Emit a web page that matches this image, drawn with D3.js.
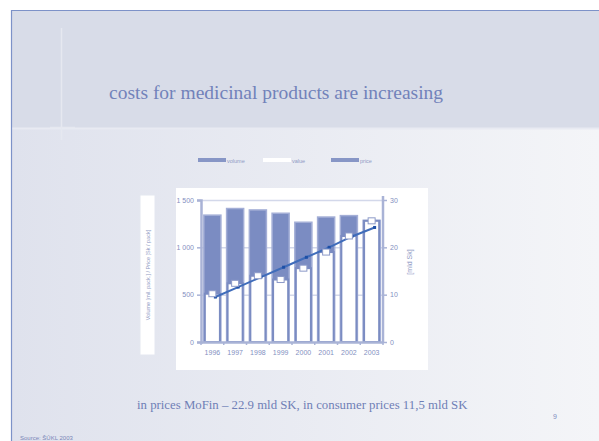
<!DOCTYPE html>
<html>
<head>
<meta charset="utf-8">
<script src="https://cdn.jsdelivr.net/npm/d3@7"></script>
<style>
  html, body { margin: 0; padding: 0; background: #ffffff; }
  svg { display: block; }
</style>
</head>
<body>
<svg id="slide" width="599" height="441"></svg>
<script>
// Yearly data for medicinal products
const years = ["1996", "1997", "1998", "1999", "2000", "2001", "2002", "2003"];
const volume = [1340, 1410, 1395, 1360, 1265, 1320, 1335, 1285];     // left axis
const value = [10.2, 12.4, 14.0, 13.2, 15.6, 19.0, 22.4, 25.6];      // right axis, mld Sk
const price = [9.5, 11.6, 13.7, 15.8, 17.9, 20.0, 22.3, 24.2];       // right axis
const leftTicks = [0, 500, 1000, 1500];
const rightTicks = [0, 10, 20, 30];
const legendNames = ["volume", "value", "price"];

const svg = d3.select("#slide");
const W = 599, H = 441;

// Slide background
const defs = svg.append("defs");
const grad = defs.append("linearGradient").attr("id", "bodyGrad")
  .attr("x1", "0%").attr("y1", "0%").attr("x2", "100%").attr("y2", "0%");
grad.append("stop").attr("offset", "0%").attr("stop-color", "#dfe2ed");
grad.append("stop").attr("offset", "100%").attr("stop-color", "#f4f5f8");

svg.append("rect").attr("x", 0).attr("y", 0).attr("width", W).attr("height", H).attr("fill", "#ffffff");
svg.append("rect").attr("x", 12).attr("y", 128).attr("width", W - 12).attr("height", H - 128).attr("fill", "url(#bodyGrad)");
svg.append("rect").attr("x", 12).attr("y", 11).attr("width", W - 12).attr("height", 117).attr("fill", "#d8dce8");
svg.append("line").attr("x1", 12).attr("x2", W).attr("y1", 128.5).attr("y2", 128.5)
  .attr("stroke", "#e8eaf2").attr("stroke-width", 2);
// frame
svg.append("line").attr("x1", 11.5).attr("x2", 11.5).attr("y1", 10).attr("y2", H).attr("stroke", "#7d92c8").attr("stroke-width", 1.2);
svg.append("line").attr("x1", 11).attr("x2", W).attr("y1", 10.5).attr("y2", 10.5).attr("stroke", "#7d92c8").attr("stroke-width", 1.2);
// decorative guide cross
svg.append("line").attr("x1", 61.5).attr("x2", 61.5).attr("y1", 28).attr("y2", 140).attr("stroke", "#e6e8f0").attr("stroke-width", 1.5);
svg.append("line").attr("x1", 50).attr("x2", 75).attr("y1", 127.5).attr("y2", 127.5).attr("stroke", "#e6e8f0").attr("stroke-width", 1.5);

// Title
svg.append("text").attr("x", 109).attr("y", 99)
  .attr("font-family", "Liberation Serif, DejaVu Serif, serif")
  .attr("font-size", 19.5).attr("fill", "#7282ba")
  .text("costs for medicinal products are increasing");

// Chart panel
svg.append("rect").attr("x", 176).attr("y", 188).attr("width", 252).attr("height", 182).attr("fill", "#ffffff");
// left axis label box
svg.append("rect").attr("x", 140).attr("y", 195).attr("width", 15).attr("height", 160).attr("fill", "#ffffff")
  .attr("stroke", "#e4e7f0");

const margin = { left: 201, right: 383, top: 200, bottom: 342 };
const x = d3.scaleBand().domain(years).range([margin.left, margin.right]).paddingInner(0.25).paddingOuter(0.125);
const yL = d3.scaleLinear().domain([0, 1500]).range([margin.bottom, margin.top]);
const yR = d3.scaleLinear().domain([0, 30]).range([margin.bottom, margin.top]);

const barBlue = "#7b8cc2";
const axisCol = "#a9b3d6";
const textCol = "#8390bf";

// gridlines
svg.append("g").selectAll("line").data(leftTicks.slice(1)).join("line")
  .attr("x1", margin.left).attr("x2", margin.right)
  .attr("y1", d => yL(d) + 0.5).attr("y2", d => yL(d) + 0.5)
  .attr("stroke", "#d3d8ea").attr("stroke-width", 1.5);

// volume bars
svg.append("g").selectAll("rect").data(years).join("rect")
  .attr("x", d => x(d)).attr("width", x.bandwidth())
  .attr("y", (d, i) => yL(volume[i])).attr("height", (d, i) => yL(0) - yL(volume[i]))
  .attr("fill", barBlue).attr("stroke", "#a3aed6").attr("stroke-width", 1.5);

// value bars
svg.append("g").selectAll("rect").data(years).join("rect")
  .attr("x", d => x(d) + 1).attr("width", x.bandwidth() - 2)
  .attr("y", (d, i) => yR(value[i])).attr("height", (d, i) => yR(0) - yR(value[i]))
  .attr("fill", "#ffffff").attr("stroke", barBlue).attr("stroke-width", 2);

// price line
const line = d3.line().x((d, i) => x(years[i]) + x.bandwidth() / 2 + 3).y(d => yR(d));
svg.append("path").datum(price).attr("d", line)
  .attr("fill", "none").attr("stroke", "#3f6cba").attr("stroke-width", 2);
svg.append("g").selectAll("rect").data(price).join("rect")
  .attr("x", (d, i) => x(years[i]) + x.bandwidth() / 2 + 1.5)
  .attr("y", d => yR(d) - 1.5).attr("width", 3).attr("height", 3)
  .attr("fill", "#1d4fa6");
svg.append("g").selectAll("rect").data(value).join("rect")
  .attr("x", (d, i) => x(years[i]) + x.bandwidth() / 2 - 3.5)
  .attr("y", d => yR(d) - 3).attr("width", 7).attr("height", 6)
  .attr("fill", "#ffffff").attr("stroke", "#8c9ac8").attr("stroke-width", 1);

// axes
const axFont = "Liberation Sans, Arial, sans-serif";
const gL = svg.append("g").attr("transform", `translate(${margin.left},0)`)
  .call(d3.axisLeft(yL).tickValues(leftTicks).tickSize(4).tickFormat(d => d === 0 ? "0" : d3.format(",")(d).replace(",", " ")));
const gR = svg.append("g").attr("transform", `translate(${margin.right},0)`)
  .call(d3.axisRight(yR).tickValues(rightTicks).tickSize(4));
const gX = svg.append("g").attr("transform", `translate(0,${margin.bottom})`)
  .call(d3.axisBottom(x).tickSize(0).tickPadding(8));
[gL, gR, gX].forEach(g => {
  g.selectAll(".domain").attr("stroke", axisCol).attr("stroke-width", 2.5);
  g.selectAll(".tick line").attr("stroke", axisCol).attr("stroke-width", 1.5);
  g.selectAll("text").attr("fill", textCol).attr("font-family", axFont).attr("font-size", 7);
});
gR.select(".domain").attr("d", `M0,${margin.top - 4}V${margin.bottom}`);
// category separators on the x axis
svg.append("g").selectAll("line").data(d3.range(years.length + 1)).join("line")
  .attr("x1", i => margin.left + i * (margin.right - margin.left) / years.length)
  .attr("x2", i => margin.left + i * (margin.right - margin.left) / years.length)
  .attr("y1", margin.bottom).attr("y2", margin.bottom + 3)
  .attr("stroke", axisCol).attr("stroke-width", 1.5);

// axis titles
svg.append("text").attr("transform", "translate(150,275) rotate(-90)")
  .attr("text-anchor", "middle").attr("font-family", axFont).attr("font-size", 5.5).attr("fill", "#8f9ac4")
  .text("Volume [mil. pack.] / Price [Sk / pack]");
svg.append("text").attr("transform", "translate(412,262) rotate(-90)")
  .attr("text-anchor", "middle").attr("font-family", axFont).attr("font-size", 7).attr("fill", "#8f9ac4")
  .text("[mld Sk]");

// legend
const legend = svg.append("g");
const legX = [198, 263, 331];
legendNames.forEach((n, i) => {
  legend.append("rect").attr("x", legX[i]).attr("y", 158).attr("width", 28).attr("height", 4)
    .attr("fill", i === 1 ? "#ffffff" : "#8796c6");
  legend.append("text").attr("x", legX[i] + 29).attr("y", 163)
    .attr("font-family", axFont).attr("font-size", 5.5).attr("fill", "#8f9ac4").text(n);
});

// footnote text
svg.append("text").attr("x", 137).attr("y", 409)
  .attr("font-family", "Liberation Serif, DejaVu Serif, serif").attr("font-size", 12.8).attr("fill", "#6f7fb6")
  .text("in prices MoFin  – 22.9 mld SK, in consumer prices 11,5 mld SK");
svg.append("text").attr("x", 553).attr("y", 419)
  .attr("font-family", axFont).attr("font-size", 7).attr("fill", "#7f8cc0").text("9");
svg.append("text").attr("x", 20).attr("y", 440)
  .attr("font-family", axFont).attr("font-size", 6).attr("fill", "#7a86b8").text("Source: ŠÚKL 2003");
</script>
</body>
</html>
